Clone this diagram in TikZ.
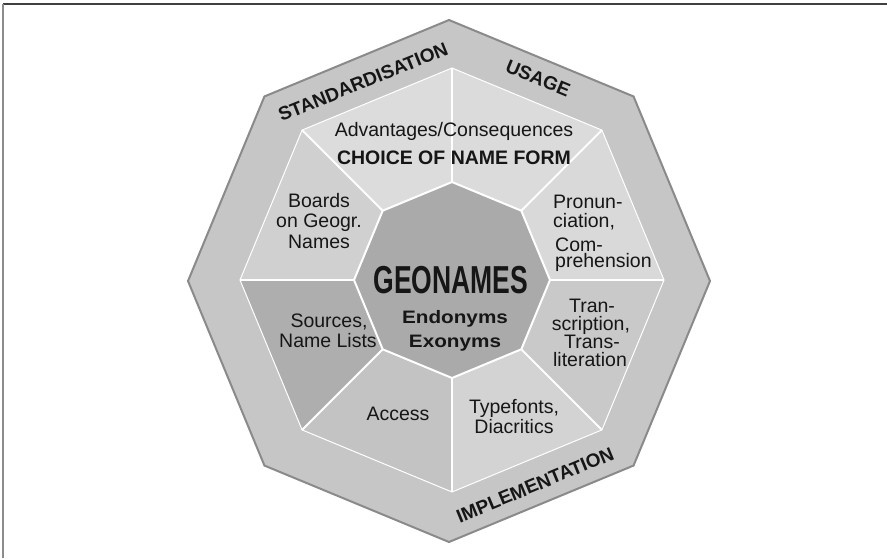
\documentclass[tikz,border=0pt]{standalone}
\usepackage{fontspec}
\setmainfont{Liberation Sans}
\usetikzlibrary{calc}
\definecolor{ringfill}{HTML}{C6C6C6}
\definecolor{ringedge}{HTML}{8A8A8A}
\definecolor{corefill}{HTML}{AAAAAA}
\definecolor{sA}{HTML}{DBDBDB}
\definecolor{sB}{HTML}{D9D9D9}
\definecolor{sC}{HTML}{C9C9C9}
\definecolor{sD}{HTML}{D3D3D3}
\definecolor{sE}{HTML}{C3C3C3}
\definecolor{sF}{HTML}{AEAEAE}
\definecolor{sG}{HTML}{D0D0D0}
\definecolor{sH}{HTML}{DCDCDC}
\definecolor{txt}{HTML}{161616}
\begin{document}
\begin{tikzpicture}[x=1pt,y=-1pt,
  lbl/.style={inner sep=0pt,text=txt,font=\fontsize{19.5}{20}\selectfont},
  boldlbl/.style={inner sep=0pt,text=txt,font=\fontsize{19.5}{20}\selectfont\bfseries},
  ringlbl/.style={inner sep=0pt,text=txt,font=\fontsize{19}{19}\selectfont\bfseries},
  spoke/.style={white,line width=2pt}]
\useasboundingbox (0,0) rectangle (887,558);
% frame
\draw[color=black!75,line width=1.6pt] (3,4) -- (887,4);
\draw[color=black!45,line width=2pt] (3,4) -- (3,558);
% vertices
\foreach \k in {0,...,7}{
  \coordinate (o\k) at ($(449,281)+(\k*45+270:261)$);
  \coordinate (i\k) at ($(452,280)+(\k*45+270:212)$);
  \coordinate (c\k) at ($(452,280)+(\k*45+270:98)$);
}
% outer ring
\draw[fill=ringfill,draw=ringedge,line width=2pt,line join=miter]
  (o0)--(o1)--(o2)--(o3)--(o4)--(o5)--(o6)--(o7)--cycle;
% sectors
\fill[sA] (i0)--(i1)--(c1)--(c0)--cycle;
\fill[sB] (i1)--(i2)--(c2)--(c1)--cycle;
\fill[sC] (i2)--(i3)--(c3)--(c2)--cycle;
\fill[sD] (i3)--(i4)--(c4)--(c3)--cycle;
\fill[sE] (i4)--(i5)--(c5)--(c4)--cycle;
\fill[sF] (i5)--(i6)--(c6)--(c5)--cycle;
\fill[sG] (i6)--(i7)--(c7)--(c6)--cycle;
\fill[sH] (i7)--(i0)--(c0)--(c7)--cycle;
\draw[white,line width=1pt] (i0)--(i1)--(i2)--(i3)--(i4)--(i5)--(i6)--(i7)--cycle;
\foreach \k in {0,...,7}{ \draw[spoke] (i\k) -- (c\k); }
% core
\draw[fill=corefill,draw=white,line width=2pt]
  (c0)--(c1)--(c2)--(c3)--(c4)--(c5)--(c6)--(c7)--cycle;
% ring labels
\node[ringlbl,rotate=22] (std) at (363,82) {STANDARDISATION};
\node[ringlbl,rotate=-22.5] (usg) at (538,78) {USAGE};
\node[ringlbl,rotate=22.5] (imp) at (535,485) {IMPLEMENTATION};
% top sector
\node[lbl,anchor=base] (adv) at (454,136) {Advantages/Consequences};
\node[boldlbl,anchor=base] (choice) at (454,164) {CHOICE OF NAME FORM};
% boards
\node[lbl,anchor=base] (b1) at (319,207) {Boards};
\node[lbl,anchor=base] (b2) at (319,227) {on Geogr.};
\node[lbl,anchor=base] (b3) at (319,248) {Names};
% pronunciation
\node[lbl,anchor=base west] (p1) at (553,208) {Pronun-};
\node[lbl,anchor=base west] (p2) at (553,227) {ciation,};
\node[lbl,anchor=base west] (p3) at (555,251) {Com-};
\node[lbl,anchor=base west] (p4) at (555,267) {prehension};
% transcription
\node[lbl,anchor=base] (t1) at (592,312) {Tran-};
\node[lbl,anchor=base] (t2) at (591,330) {scription,};
\node[lbl,anchor=base] (t3) at (592,348) {Trans-};
\node[lbl,anchor=base] (t4) at (590,366) {literation};
% sources
\node[lbl,anchor=base] (s1) at (329,327) {Sources,};
\node[lbl,anchor=base] (s2) at (328,347) {Name Lists};
% access
\node[lbl,anchor=base] (acc) at (398,420) {Access};
% typefonts
\node[lbl,anchor=base] (ty1) at (514,413) {Typefonts,};
\node[lbl,anchor=base] (ty2) at (514,433) {Diacritics};
% core
\node[inner sep=0pt,text=txt,anchor=base] (geo) at (451,293)
  {\scalebox{0.68}[1]{\fontsize{39}{39}\selectfont\bfseries GEONAMES}};
\node[inner sep=0pt,text=txt,anchor=base] (endo) at (455,323)
  {\scalebox{1.15}[1]{\fontsize{18}{18}\selectfont\bfseries Endonyms}};
\node[inner sep=0pt,text=txt,anchor=base] (exo) at (455,347)
  {\scalebox{1.15}[1]{\fontsize{18}{18}\selectfont\bfseries Exonyms}};
\end{tikzpicture}
\end{document}
